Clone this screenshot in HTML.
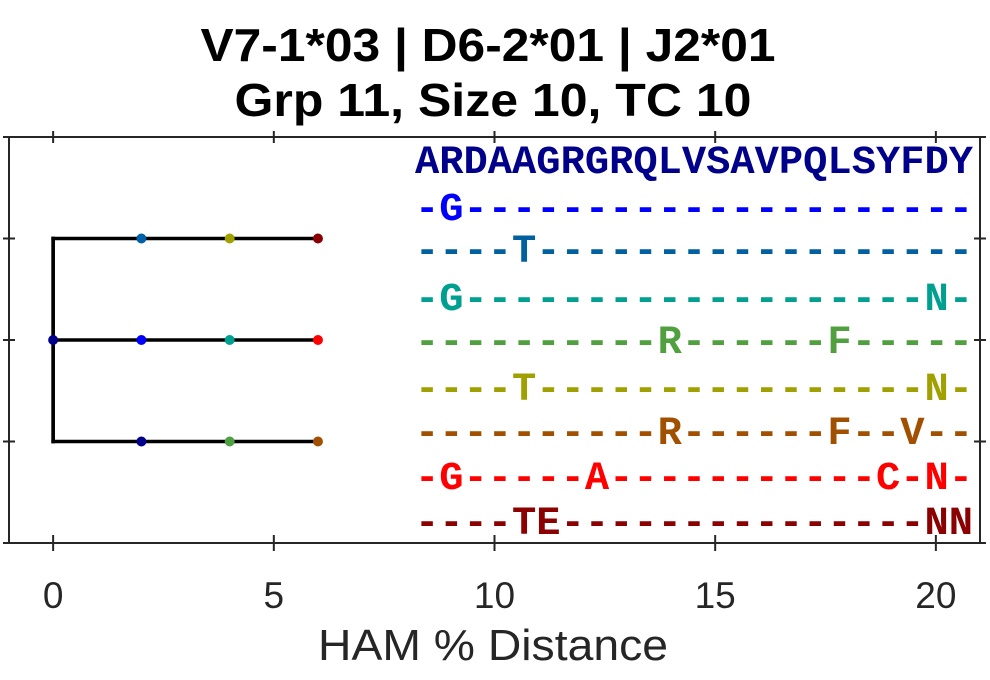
<!DOCTYPE html>
<html><head><meta charset="utf-8"><style>
body{margin:0;background:#fff}
svg text{font-family:"Liberation Sans",sans-serif}
.seq{font-family:"Liberation Mono","DejaVu Sans Mono",monospace;font-weight:bold;font-size:40px}
</style></head><body>
<svg id="c" width="990" height="675" viewBox="0 0 990 675">
<text x="488" y="61" text-anchor="middle" font-size="46" font-weight="bold" fill="#000" textLength="575" lengthAdjust="spacingAndGlyphs">V7-1*03 | D6-2*01 | J2*01</text>
<text x="493" y="116" text-anchor="middle" font-size="46" font-weight="bold" fill="#000" textLength="517" lengthAdjust="spacingAndGlyphs">Grp 11, Size 10, TC 10</text>
<g id="axes"></g><g id="tree"></g><g id="seqs"></g>
<text x="493" y="660" text-anchor="middle" font-size="44" fill="#262626" textLength="350" lengthAdjust="spacingAndGlyphs">HAM % Distance</text>
</svg>
<script>
const xTicks=[0,5,10,15,20];
const yTicks=[0,1,2,3,4];
const edgesX1=[0,0,0,0,2,4,0,2,4,0,2,4];
const edgesX2=[0,0,0,2,4,6,2,4,6,2,4,6];
const edgesY1=[1,2,1,1,1,1,2,2,2,3,3,3];
const edgesY2=[2,3,3,1,1,1,2,2,2,3,3,3];
const nodeX=[2,4,6,0,2,4,6,2,4,6];
const nodeY=[1,1,1,2,2,2,2,3,3,3];
const nodeColors=["#0060a8","#a0a000","#8b0000","#00008b","#0000ff","#00a090","#ff0000","#00008b","#4fa040","#a05000"];
const seqs=["ARDAAGRGRQLVSAVPQLSYFDY","-G---------------------","----T------------------","-G-------------------N-","----------R------F-----","----T----------------N-","----------R------F--V--","-G-----A-----------C-N-","----TE---------------NN"];
const seqColors=["#00008b","#0000ff","#0060a0","#00a090","#50a040","#a0a000","#a05000","#ff0000","#8b0000"];
const xMin=-1,xMax=21,L=9,R=980,T=137,B=543;
const X=v=>L+(v-xMin)/(xMax-xMin)*(R-L);
const Y=v=>T+v/4*(B-T);
const NS="http://www.w3.org/2000/svg";
function mk(t,a,p){const e=document.createElementNS(NS,t);for(const k in a)e.setAttribute(k,a[k]);p.appendChild(e);return e;}
const ax=document.getElementById('axes');
const box=mk('rect',{x:L,y:T,width:R-L,height:B-T,fill:'none',stroke:'#262626','stroke-width':2},ax);


xTicks.forEach(t=>{
 const x=X(t);
 const a=mk('line',{x1:x,x2:x,y1:B+8,y2:B-8,stroke:'#262626','stroke-width':2},ax);
 
 
 const b=mk('line',{x1:x,x2:x,y1:T-6,y2:T+6,stroke:'#262626','stroke-width':2},ax);
 
 
 const tx=mk('text',{x:x,y:B+65,'text-anchor':'middle','font-size':37,fill:'#262626'},ax);
 tx.textContent=t;
 
 
});
yTicks.forEach(t=>{
 const y=Y(t);
 const a=mk('line',{x1:L-6,x2:L+6,y1:y,y2:y,stroke:'#262626','stroke-width':2},ax);
 
 
 const b=mk('line',{x1:R+6,x2:R-6,y1:y,y2:y,stroke:'#262626','stroke-width':2},ax);
 
 
});
const tr=document.getElementById('tree');
edgesX1.forEach((v,i)=>{
 const l=mk('line',{x1:X(v),x2:X(edgesX2[i]),y1:Y(edgesY1[i]),y2:Y(edgesY2[i]),stroke:'#000','stroke-width':3.5,'stroke-linecap':'square'},tr);
 
 
});
nodeX.forEach((v,i)=>{
 const c=mk('circle',{cx:X(v),cy:Y(nodeY[i]),r:5,fill:nodeColors[i]},tr);
 
 
});
const sg=document.getElementById('seqs');
const rowY=[173,220,262,310,353,400,444,489,534];
seqs.forEach((s,i)=>{
 const t=mk('text',{x:415,y:rowY[i],class:'seq',fill:seqColors[i],textLength:558,lengthAdjust:'spacingAndGlyphs'},sg);
 t.textContent=s;
 
 
});
</script>
</body></html>
